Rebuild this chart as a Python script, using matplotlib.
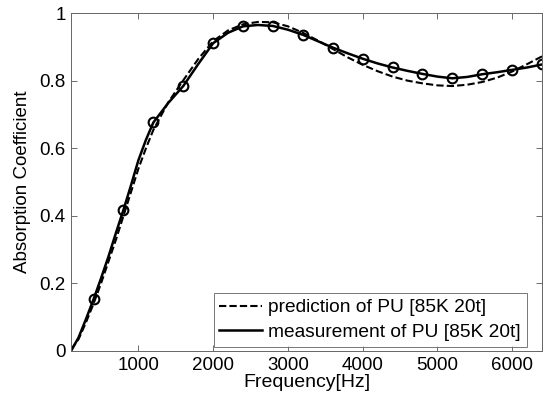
import matplotlib
matplotlib.use("Agg")
import matplotlib.pyplot as plt

plt.rcParams['font.family'] = ['Liberation Sans', 'DejaVu Sans']

freq = [100, 200, 300, 400, 500, 600, 700, 800, 900, 1000, 1100, 1200, 1400, 1600,
        1800, 2000, 2200, 2400, 2600, 2800, 3000, 3200, 3400, 3600, 3800, 4000,
        4200, 4400, 4600, 4800, 5000, 5200, 5400, 5600, 5800, 6000, 6200, 6400]

measurement = [0.0, 0.04, 0.095, 0.153, 0.215, 0.28, 0.35, 0.418, 0.49, 0.565, 0.625,
               0.677, 0.735, 0.785, 0.85, 0.912, 0.943, 0.962, 0.966, 0.963, 0.952,
               0.937, 0.918, 0.899, 0.882, 0.866, 0.852, 0.840, 0.830, 0.821, 0.813,
               0.808, 0.812, 0.820, 0.826, 0.833, 0.840, 0.849]

prediction = [0.005, 0.035, 0.085, 0.14, 0.2, 0.265, 0.33, 0.40, 0.47, 0.54, 0.6,
              0.655, 0.737, 0.802, 0.865, 0.918, 0.95, 0.968, 0.975, 0.974, 0.962,
              0.943, 0.92, 0.895, 0.87, 0.848, 0.829, 0.813, 0.801, 0.793, 0.787,
              0.785, 0.789, 0.797, 0.81, 0.828, 0.85, 0.873]

marker_freq = [400, 800, 1200, 1600, 2000, 2400, 2800, 3200, 3600, 4000, 4400,
               4800, 5200, 5600, 6000, 6400]
marker_vals = [0.153, 0.418, 0.677, 0.785, 0.912, 0.962, 0.963, 0.937, 0.899, 0.866,
               0.840, 0.821, 0.808, 0.820, 0.833, 0.849]

xticks = [1000, 2000, 3000, 4000, 5000, 6000]
yticks = [0, 0.2, 0.4, 0.6, 0.8, 1]
ytick_labels = ['0', '0.2', '0.4', '0.6', '0.8', '1']

fig = plt.figure(figsize=(5.47, 3.97), dpi=100)
ax = fig.add_axes([0.130, 0.116, 0.861, 0.850])

ax.plot(freq, prediction, color='black', linestyle=(0, (3.5, 1.5)), linewidth=1.5,
        label='prediction of PU [85K 20t]')
ax.plot(freq, measurement, color='black', linestyle='-', linewidth=1.8,
        label='measurement of PU [85K 20t]')
ax.plot(marker_freq, marker_vals, linestyle='none', marker='o', markersize=7,
        markerfacecolor='none', markeredgecolor='black', markeredgewidth=1.5)

ax.set_xlim(100, 6400)
ax.set_ylim(0, 1)
ax.set_xticks(xticks)
ax.set_yticks(yticks)
ax.set_yticklabels(ytick_labels)
ax.tick_params(direction='in', top=True, right=True, labelsize=13.5, length=4,
               width=0.6, color='#555555', pad=4)
for s in ax.spines.values():
    s.set_linewidth(0.7)
    s.set_color('#666666')

ax.set_xlabel('Frequency[Hz]', fontsize=14, labelpad=0)
ax.set_ylabel('Absorption Coefficient', fontsize=13.5, labelpad=6)

leg = ax.legend(loc='lower right', bbox_to_anchor=(0.967, 0.0125), fontsize=13.8,
                handlelength=2.25, frameon=True, fancybox=False, edgecolor='#555555',
                borderaxespad=0, borderpad=0.3, labelspacing=0.38,
                handletextpad=0.3)
leg.get_frame().set_linewidth(0.7)

fig.savefig('out.png', dpi=100)
